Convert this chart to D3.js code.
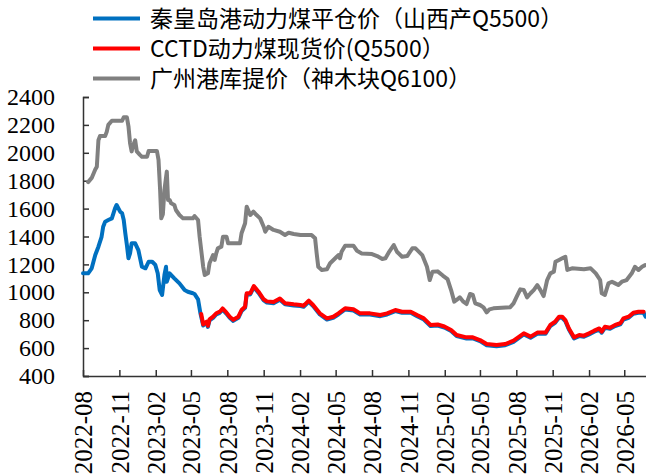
<!DOCTYPE html>
<html>
<head>
<meta charset="utf-8">
<script src="https://cdn.jsdelivr.net/npm/d3@7"></script>
<style>
  body { margin: 0; background: #fff; }
  svg { display: block; }
</style>
</head>
<body>
<svg id="chart" width="646" height="474"></svg>
<script>
// legend names
const seriesNames = [
    "秦皇岛港动力煤平仓价（山西产Q5500）",
    "CCTD动力煤现货价(Q5500）",
    "广州港库提价（神木块Q6100）"
];

// x tick labels (every 3 months)
const xTickLabels = ["2022-08", "2022-11", "2023-02", "2023-05", "2023-08", "2023-11",
    "2024-02", "2024-05", "2024-08", "2024-11", "2025-02", "2025-05",
    "2025-08", "2025-11", "2026-02", "2026-05"];

const yTicks = [400, 600, 800, 1000, 1200, 1400, 1600, 1800, 2000, 2200, 2400];

// 广州港库提价
const grayPts = [
    ["2022-08-14", 1790], ["2022-08-23", 1820], ["2022-09-01", 1880], ["2022-09-05", 1900],
    ["2022-09-09", 2090], ["2022-09-13", 2120], ["2022-09-26", 2120], ["2022-09-30", 2150],
    ["2022-10-04", 2200], ["2022-10-13", 2230], ["2022-11-08", 2230], ["2022-11-12", 2255],
    ["2022-11-20", 2255], ["2022-11-24", 2190], ["2022-11-28", 2070], ["2022-12-02", 2010],
    ["2022-12-06", 2055], ["2022-12-11", 2090], ["2022-12-15", 2010], ["2022-12-23", 1985],
    ["2022-12-28", 1972], ["2023-01-10", 1972], ["2023-01-14", 2013], ["2023-02-04", 2013],
    ["2023-02-08", 1950], ["2023-02-12", 1735], ["2023-02-15", 1530], ["2023-02-19", 1560],
    ["2023-02-23", 1735], ["2023-03-01", 1865], ["2023-03-04", 1662], ["2023-03-08", 1662],
    ["2023-03-12", 1638], ["2023-03-20", 1626], ["2023-03-24", 1590], ["2023-04-02", 1554],
    ["2023-04-11", 1530], ["2023-05-06", 1530], ["2023-05-10", 1547], ["2023-05-19", 1518],
    ["2023-05-23", 1398], ["2023-06-01", 1183], ["2023-06-05", 1124], ["2023-06-13", 1136],
    ["2023-06-17", 1208], ["2023-06-26", 1267], ["2023-06-30", 1232], ["2023-07-04", 1279],
    ["2023-07-08", 1315], ["2023-07-17", 1327], ["2023-07-21", 1398], ["2023-07-30", 1398],
    ["2023-08-03", 1351], ["2023-09-02", 1351], ["2023-09-06", 1423], ["2023-09-15", 1495],
    ["2023-09-19", 1614], ["2023-09-28", 1554], ["2023-10-06", 1578], ["2023-10-14", 1554],
    ["2023-10-23", 1530], ["2023-11-01", 1470], ["2023-11-05", 1434], ["2023-11-13", 1470],
    ["2023-11-26", 1447], ["2023-12-12", 1434], ["2023-12-25", 1411], ["2024-01-03", 1427],
    ["2024-01-16", 1418], ["2024-02-02", 1411], ["2024-03-01", 1411], ["2024-03-10", 1387],
    ["2024-03-14", 1279], ["2024-03-18", 1183], ["2024-03-27", 1160], ["2024-04-09", 1165],
    ["2024-04-17", 1208], ["2024-04-30", 1244], ["2024-05-08", 1267], ["2024-05-12", 1244],
    ["2024-05-16", 1291], ["2024-05-25", 1334], ["2024-06-15", 1334], ["2024-06-24", 1298],
    ["2024-07-06", 1279], ["2024-08-01", 1274], ["2024-08-14", 1260], ["2024-08-27", 1239],
    ["2024-09-04", 1244], ["2024-09-12", 1284], ["2024-09-25", 1339], ["2024-10-03", 1291],
    ["2024-10-16", 1255], ["2024-10-29", 1260], ["2024-11-11", 1315], ["2024-11-19", 1315],
    ["2024-12-06", 1267], ["2024-12-18", 1183], ["2024-12-25", 1088], ["2025-01-01", 1148],
    ["2025-01-14", 1150], ["2025-01-27", 1120], ["2025-02-08", 1095], ["2025-02-17", 1016],
    ["2025-02-25", 933], ["2025-03-03", 945], ["2025-03-11", 964], ["2025-03-20", 933],
    ["2025-03-28", 916], ["2025-04-06", 988], ["2025-04-13", 981], ["2025-04-19", 921],
    ["2025-05-01", 909], ["2025-05-10", 892], ["2025-05-18", 856], ["2025-05-25", 878],
    ["2025-06-04", 885], ["2025-07-16", 892], ["2025-07-25", 921], ["2025-08-02", 969],
    ["2025-08-11", 1021], ["2025-08-20", 1016], ["2025-08-28", 964], ["2025-09-06", 993],
    ["2025-09-14", 1016], ["2025-09-23", 1052], ["2025-10-01", 1016], ["2025-10-09", 973],
    ["2025-10-18", 1088], ["2025-10-26", 1136], ["2025-11-04", 1148], ["2025-11-08", 1219],
    ["2025-11-17", 1232], ["2025-11-25", 1244], ["2025-12-03", 1255], ["2025-12-08", 1160],
    ["2025-12-20", 1172], ["2026-01-19", 1165], ["2026-02-05", 1172], ["2026-02-18", 1136],
    ["2026-03-01", 1088], ["2026-03-05", 993], ["2026-03-13", 981], ["2026-03-22", 1064],
    ["2026-03-31", 1076], ["2026-04-08", 1064], ["2026-04-16", 1052], ["2026-04-25", 1076],
    ["2026-05-07", 1088], ["2026-05-20", 1136], ["2026-05-28", 1183], ["2026-06-06", 1160],
    ["2026-06-15", 1183], ["2026-06-23", 1195]
];

// 秦皇岛港动力煤平仓价
const bluePts = [
    ["2022-08-01", 1136], ["2022-08-14", 1136], ["2022-08-23", 1172], ["2022-09-01", 1267],
    ["2022-09-09", 1327], ["2022-09-17", 1398], ["2022-09-21", 1470], ["2022-09-26", 1506],
    ["2022-10-04", 1518], ["2022-10-13", 1530], ["2022-10-21", 1602], ["2022-10-25", 1626],
    ["2022-11-03", 1578], ["2022-11-08", 1566], ["2022-11-12", 1518], ["2022-11-16", 1423],
    ["2022-11-20", 1339], ["2022-11-24", 1244], ["2022-11-28", 1279], ["2022-12-02", 1351],
    ["2022-12-11", 1351], ["2022-12-19", 1303], ["2022-12-28", 1183], ["2023-01-06", 1172],
    ["2023-01-14", 1219], ["2023-01-23", 1219], ["2023-01-31", 1196], ["2023-02-06", 1136],
    ["2023-02-11", 1016], ["2023-02-17", 981], ["2023-02-23", 1124], ["2023-02-27", 1183],
    ["2023-03-01", 1076], ["2023-03-08", 1136], ["2023-03-20", 1100], ["2023-04-02", 1064],
    ["2023-04-15", 1016], ["2023-04-23", 1004], ["2023-05-06", 993], ["2023-05-10", 988],
    ["2023-05-19", 950], ["2023-05-25", 849], ["2023-06-01", 762], ["2023-06-10", 782],
    ["2023-06-13", 752], ["2023-06-17", 798], ["2023-06-26", 817], ["2023-07-04", 842],
    ["2023-07-13", 853], ["2023-07-20", 876], ["2023-07-30", 846], ["2023-08-07", 817],
    ["2023-08-16", 795], ["2023-08-29", 817], ["2023-09-06", 865], ["2023-09-15", 889],
    ["2023-09-19", 985], ["2023-09-28", 985], ["2023-10-07", 1037], ["2023-10-19", 996],
    ["2023-11-01", 942], ["2023-11-09", 927], ["2023-11-26", 922], ["2023-12-12", 947],
    ["2023-12-25", 914], ["2024-01-16", 906], ["2024-02-02", 901], ["2024-02-10", 896],
    ["2024-02-23", 932], ["2024-03-05", 901], ["2024-03-22", 841], ["2024-04-09", 805],
    ["2024-04-25", 817], ["2024-05-08", 841], ["2024-05-25", 877], ["2024-06-15", 870],
    ["2024-07-02", 841], ["2024-07-27", 841], ["2024-08-22", 829], ["2024-09-08", 841],
    ["2024-09-29", 865], ["2024-10-16", 853], ["2024-11-07", 853], ["2024-11-23", 829],
    ["2024-12-10", 805], ["2024-12-27", 758], ["2025-01-14", 762], ["2025-01-31", 747],
    ["2025-02-17", 722], ["2025-03-03", 686], ["2025-03-28", 669], ["2025-04-13", 669],
    ["2025-05-01", 650], ["2025-05-18", 621], ["2025-06-12", 614], ["2025-07-04", 621],
    ["2025-07-25", 645], ["2025-08-20", 698], ["2025-09-06", 674], ["2025-09-23", 703],
    ["2025-10-14", 703], ["2025-10-26", 758], ["2025-11-07", 781], ["2025-11-17", 817],
    ["2025-11-25", 817], ["2025-12-03", 793], ["2025-12-12", 733], ["2025-12-25", 669],
    ["2026-01-07", 686], ["2026-01-19", 681], ["2026-02-01", 698], ["2026-02-14", 717],
    ["2026-02-27", 733], ["2026-03-05", 710], ["2026-03-13", 745], ["2026-03-26", 738],
    ["2026-04-08", 758], ["2026-04-21", 770], ["2026-04-29", 805], ["2026-05-12", 817],
    ["2026-05-24", 846], ["2026-06-06", 853], ["2026-06-19", 853], ["2026-06-24", 825]
];

// CCTD动力煤现货价
const redPts = [
    ["2023-05-27", 845], ["2023-06-01", 770], ["2023-06-10", 790], ["2023-06-13", 760],
    ["2023-06-17", 806], ["2023-06-26", 825], ["2023-07-04", 850], ["2023-07-13", 861],
    ["2023-07-20", 884], ["2023-07-30", 854], ["2023-08-07", 825], ["2023-08-16", 803],
    ["2023-08-29", 825], ["2023-09-06", 873], ["2023-09-15", 897], ["2023-09-19", 993],
    ["2023-09-28", 993], ["2023-10-07", 1045], ["2023-10-19", 1004], ["2023-11-01", 950],
    ["2023-11-09", 935], ["2023-11-26", 930], ["2023-12-12", 955], ["2023-12-25", 922],
    ["2024-01-16", 914], ["2024-02-02", 909], ["2024-02-10", 904], ["2024-02-23", 940],
    ["2024-03-05", 909], ["2024-03-22", 849], ["2024-04-09", 813], ["2024-04-25", 825],
    ["2024-05-08", 849], ["2024-05-25", 885], ["2024-06-15", 878], ["2024-07-02", 849],
    ["2024-07-27", 849], ["2024-08-22", 837], ["2024-09-08", 849], ["2024-09-29", 873],
    ["2024-10-16", 861], ["2024-11-07", 861], ["2024-11-23", 837], ["2024-12-10", 813],
    ["2024-12-27", 766], ["2025-01-14", 770], ["2025-01-31", 755], ["2025-02-17", 730],
    ["2025-03-03", 694], ["2025-03-28", 677], ["2025-04-13", 677], ["2025-05-01", 658],
    ["2025-05-18", 629], ["2025-06-12", 622], ["2025-07-04", 629], ["2025-07-25", 653],
    ["2025-08-20", 706], ["2025-09-06", 682], ["2025-09-23", 711], ["2025-10-14", 711],
    ["2025-10-26", 766], ["2025-11-07", 789], ["2025-11-17", 825], ["2025-11-25", 825],
    ["2025-12-03", 801], ["2025-12-12", 741], ["2025-12-25", 677], ["2026-01-07", 694],
    ["2026-01-19", 689], ["2026-02-01", 706], ["2026-02-14", 725], ["2026-02-27", 741],
    ["2026-03-05", 718], ["2026-03-13", 753], ["2026-03-26", 746], ["2026-04-08", 766],
    ["2026-04-21", 778], ["2026-04-29", 813], ["2026-05-12", 825], ["2026-05-24", 854],
    ["2026-06-06", 861], ["2026-06-19", 861]
];

const colors = ["#0070C0", "#FF0000", "#808080"];

const parse = d3.timeParse("%Y-%m-%d");
const parseMonth = d3.timeParse("%Y-%m");

const svg = d3.select("#chart");
const plotLeft = 83, plotRight = 646, plotTop = 97, plotBottom = 376;

const x = d3.scaleTime()
    .domain([parseMonth("2022-08"), parse("2026-06-25")])
    .range([plotLeft, plotRight]);
const y = d3.scaleLinear()
    .domain([400, 2400])
    .range([plotBottom, plotTop]);

const serif = "'Liberation Serif', 'Times New Roman', serif";

// y axis
const yAxis = svg.append("g")
    .attr("transform", `translate(${plotLeft},0)`)
    .call(d3.axisLeft(y).tickValues(yTicks).tickSize(-6).tickPadding(28).tickFormat(d3.format("d")));
yAxis.select(".domain").attr("stroke", "#333").attr("stroke-width", 1.5);
yAxis.selectAll(".tick line").attr("stroke", "#333").attr("stroke-width", 1.5);
yAxis.selectAll("text")
    .style("font-family", serif)
    .style("font-size", "24px")
    .attr("fill", "#000");

// x axis
const xTicks = xTickLabels.map(parseMonth);
const xAxis = svg.append("g")
    .attr("transform", `translate(0,${plotBottom})`)
    .call(d3.axisBottom(x).tickValues(xTicks).tickSize(-6).tickSizeOuter(0).tickFormat(d3.timeFormat("%Y-%m")));
xAxis.select(".domain").attr("stroke", "#333").attr("stroke-width", 1.5);
xAxis.selectAll(".tick line").attr("stroke", "#333").attr("stroke-width", 1.5);
xAxis.selectAll("text")
    .attr("transform", "rotate(-90)")
    .attr("text-anchor", "end")
    .attr("x", -15)
    .attr("y", 0)
    .attr("dy", "0.35em")
    .style("font-family", serif)
    .style("font-size", "25px")
    .attr("fill", "#000");

// lines
const line = d3.line()
    .x(d => x(parse(d[0])))
    .y(d => y(d[1]));

[[grayPts, colors[2]], [bluePts, colors[0]], [redPts, colors[1]]].forEach(([pts, c]) => {
    svg.append("path")
        .datum(pts)
        .attr("fill", "none")
        .attr("stroke", c)
        .attr("stroke-width", 4)
        .attr("stroke-linejoin", "round")
        .attr("stroke-linecap", "round")
        .attr("d", line);
});

// legend
const legend = svg.append("g")
    .selectAll("g")
    .data(seriesNames)
    .join("g")
    .attr("transform", (d, i) => `translate(93,${18.5 + i * 30})`);
legend.append("line")
    .attr("x1", 0).attr("x2", 47)
    .attr("stroke", (d, i) => colors[i])
    .attr("stroke-width", 4);
legend.append("text")
    .attr("x", 57)
    .attr("dy", "0.36em")
    .style("font-family", "'Noto Sans CJK SC', sans-serif")
    .style("font-size", "23px")
    .attr("fill", "#000")
    .text(d => d);
</script>
</body>
</html>
